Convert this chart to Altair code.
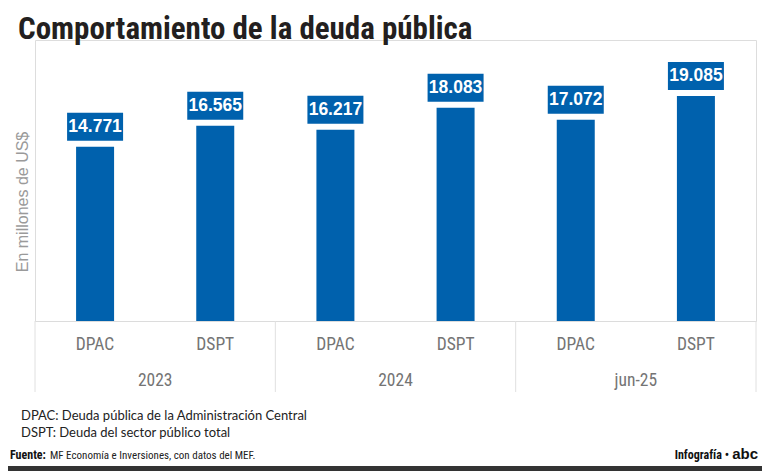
import altair as alt
import pandas as pd

years = ["2023", "2023", "2024", "2024", "jun-25", "jun-25"]
series = ["DPAC", "DSPT", "DPAC", "DSPT", "DPAC", "DSPT"]
values = [14.771, 16.565, 16.217, 18.083, 17.072, 19.085]
value_labels = ["14.771", "16.565", "16.217", "18.083", "17.072", "19.085"]

title_text = "Comportamiento de la deuda pública"
y_title = "En millones de US$"
note1 = "DPAC: Deuda pública de la Administración Central"
note2 = "DSPT: Deuda del sector público total"
source_bold = "Fuente:"
source_text = "MF Economía e Inversiones, con datos del MEF."
credit = "Infografía •"
logo = "abc"

df = pd.DataFrame({
    "year": years,
    "series": series,
    "value": values,
    "label": value_labels,
})
df["key"] = df["year"] + "|" + df["series"]
keys = list(df["key"])

BLUE = "#0061ad"
NARROW = "'Liberation Sans Narrow', 'Roboto Condensed', 'DejaVu Sans Condensed', sans-serif"
SANS = "'Liberation Sans', Arial, sans-serif"
NOTE_FONT = "Lato, 'Open Sans', sans-serif"

W, H = 721, 281

xscale = alt.Scale(domain=keys, paddingInner=0, paddingOuter=0)
yscale = alt.Scale(domain=[0, 23.83])

base = alt.Chart(df)

bars = base.mark_bar(color=BLUE, size=38).encode(
    x=alt.X("key:N", scale=xscale, sort=keys,
            axis=alt.Axis(title=None, labels=False, ticks=False, domain=True,
                          domainColor="#dcdcdc", domainWidth=1, grid=False)),
    y=alt.Y("value:Q", scale=yscale, axis=None),
)

boxes = base.mark_point(
    shape="M-1,-0.5L1,-0.5L1,0.5L-1,0.5Z", size=3136, filled=True,
    color=BLUE, opacity=1, yOffset=-20,
).encode(
    x=alt.X("key:N", scale=xscale, sort=keys),
    y=alt.Y("value:Q", scale=yscale),
)

vals = base.mark_text(
    color="white", font=SANS, fontWeight="bold", fontSize=17.5,
    baseline="middle", yOffset=-20,
).encode(
    x=alt.X("key:N", scale=xscale, sort=keys),
    y=alt.Y("value:Q", scale=yscale),
    text="label:N",
)

cat_labels = base.mark_text(
    color="#747474", font=NARROW, fontSize=17.5, baseline="middle",
).encode(
    x=alt.X("key:N", scale=xscale, sort=keys),
    y=alt.value(305),
    text="series:N",
)

year_labels = base.transform_filter(alt.datum.series == "DPAC").mark_text(
    color="#747474", font=NARROW, fontSize=17.5, baseline="middle",
).encode(
    x=alt.X("key:N", scale=xscale, sort=keys, bandPosition=1),
    y=alt.value(341),
    text="year:N",
)

sep_left = base.transform_filter(alt.datum.series == "DPAC").mark_rule(
    color="#e0e0e0", strokeWidth=1,
).encode(
    x=alt.X("key:N", scale=xscale, sort=keys, bandPosition=0),
    y=alt.value(H),
    y2=alt.value(352),
)

sep_right = base.transform_filter(alt.datum.key == keys[-1]).mark_rule(
    color="#e0e0e0", strokeWidth=1,
).encode(
    x=alt.X("key:N", scale=xscale, sort=keys, bandPosition=1),
    y=alt.value(H),
    y2=alt.value(352),
)

title = alt.Chart(pd.DataFrame({"t": [title_text]})).mark_text(
    font=NARROW, fontWeight="bold", fontSize=31, color="#231f20",
    align="left", baseline="alphabetic",
).encode(x=alt.value(-17), y=alt.value(-1), text="t:N")

ytitle = alt.Chart(pd.DataFrame({"t": [y_title]})).mark_text(
    font=SANS, fontSize=16, color="#9a9a9a", angle=270,
    align="center", baseline="middle",
).encode(x=alt.value(-12), y=alt.value(162), text="t:N")

n1 = alt.Chart(pd.DataFrame({"t": [note1]})).mark_text(
    font=NOTE_FONT, fontSize=13, color="#222222", align="left", baseline="alphabetic",
).encode(x=alt.value(-14), y=alt.value(380), text="t:N")

n2 = alt.Chart(pd.DataFrame({"t": [note2]})).mark_text(
    font=NOTE_FONT, fontSize=13, color="#222222", align="left", baseline="alphabetic",
).encode(x=alt.value(-14), y=alt.value(397), text="t:N")

src1 = alt.Chart(pd.DataFrame({"t": [source_bold]})).mark_text(
    font=NARROW, fontSize=12, fontWeight="bold", color="#111111",
    align="left", baseline="alphabetic",
).encode(x=alt.value(-25), y=alt.value(419), text="t:N")

src2 = alt.Chart(pd.DataFrame({"t": [source_text]})).mark_text(
    font=NARROW, fontSize=11, color="#222222", align="left", baseline="alphabetic",
).encode(x=alt.value(15), y=alt.value(419), text="t:N")

cred = alt.Chart(pd.DataFrame({"t": [credit]})).mark_text(
    font=NARROW, fontSize=12, fontWeight="bold", color="#111111",
    align="right", baseline="alphabetic",
).encode(x=alt.value(694), y=alt.value(419), text="t:N")

logo_m = alt.Chart(pd.DataFrame({"t": [logo]})).mark_text(
    font=SANS, fontSize=15, fontWeight=900, color="#111111",
    align="right", baseline="alphabetic",
).encode(x=alt.value(723), y=alt.value(419), text="t:N")

band = alt.Chart(pd.DataFrame({"t": [1]})).mark_rect(color="#333333").encode(
    x=alt.value(-30), x2=alt.value(740), y=alt.value(426), y2=alt.value(440),
)

chart = alt.layer(
    sep_left, sep_right, bars, boxes, vals, cat_labels, year_labels,
    title, ytitle, n1, n2, src1, src2, cred, logo_m, band,
).properties(
    width=W, height=H,
    autosize=alt.AutoSizeParams(type="none"),
    padding={"left": 27, "top": 32, "right": 6, "bottom": 150},
).configure_view(stroke=None).configure(background="white")

chart.save("out.html", embed_options={"renderer": "svg", "actions": False})
